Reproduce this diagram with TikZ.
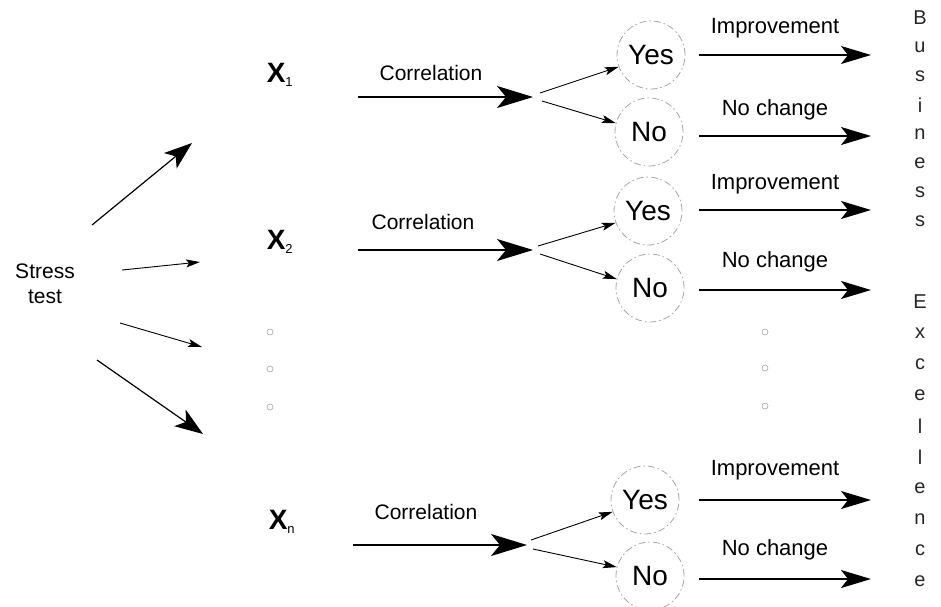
\documentclass[tikz,border=0pt]{standalone}
\usepackage{fontspec}
\setmainfont{Liberation Sans}
\usetikzlibrary{arrows.meta}
\tikzset{
  x=1pt,y=-1pt,
  lbl/.style={font=\fontsize{21}{24}\selectfont, inner sep=0pt},
  lblr/.style={font=\fontsize{22}{25}\selectfont, inner sep=0pt},
  yn/.style={circle, draw=gray!70, line width=0.8pt, dash pattern=on 7pt off 3pt on 1.5pt off 3pt, minimum size=68pt, inner sep=0pt, font=\fontsize{28}{32}\selectfont},
  xlab/.style={font=\fontsize{28}{32}\selectfont\bfseries, inner sep=0pt},
  letter/.style={font=\fontsize{20}{23}\selectfont, inner sep=0pt, text=black!85},
  bigarrow/.style={line width=1.4pt, -{Stealth[length=36pt,width=22pt,inset=9pt]}},
  rarrow/.style={line width=1.4pt, -{Stealth[length=30pt,width=18pt,inset=7pt]}},
  smallarrow/.style={line width=0.9pt, -{Stealth[length=14pt,width=8pt,inset=3pt]}},
  stressbig/.style={line width=1.2pt, -{Stealth[length=28pt,width=20pt,inset=7pt]}},
  dotc/.style={circle, draw=gray!70, line width=0.6pt, minimum size=6pt, inner sep=0pt},
}
\newcommand{\xsub}[1]{\textsubscript{\fontsize{13}{15}\selectfont\mdseries #1}}
\begin{document}
\begin{tikzpicture}
\useasboundingbox (0,0) rectangle (941,606);
% stress test
\node[font=\fontsize{21}{25}\selectfont, align=center, inner sep=0pt] (stress) at (45,284) {Stress\\test};
\coordinate (s1a) at (92,225); \coordinate (s1b) at (192,143);
\coordinate (s2a) at (122,270); \coordinate (s2b) at (200,262);
\coordinate (s3a) at (120,323); \coordinate (s3b) at (202,347);
\coordinate (s4a) at (97,360); \coordinate (s4b) at (203,434);
\draw[stressbig] (s1a) -- (s1b);
\draw[smallarrow] (s2a) -- (s2b);
\draw[smallarrow] (s3a) -- (s3b);
\draw[stressbig] (s4a) -- (s4b);
% X labels
\node[xlab] (x1) at (280,75) {X\xsub{1}};
\node[xlab] (x2) at (280,242) {X\xsub{2}};
\node[xlab] (xn) at (282,522) {X\xsub{n}};
\node[dotc] (ld1) at (270,332) {};
\node[dotc] (ld2) at (270,369) {};
\node[dotc] (ld3) at (270,407) {};
% correlation arrows
\coordinate (c1a) at (358,97); \coordinate (c1b) at (533,97);
\coordinate (c2a) at (358,250); \coordinate (c2b) at (533,250);
\coordinate (c3a) at (353,545); \coordinate (c3b) at (527,545);
\draw[bigarrow] (c1a) -- (c1b);
\draw[bigarrow] (c2a) -- (c2b);
\draw[bigarrow] (c3a) -- (c3b);
\node[lbl] (cl1) at (431,73) {Correlation};
\node[lbl] (cl2) at (423,222) {Correlation};
\node[lbl] (cl3) at (426,512) {Correlation};
% circles
\node[yn] (yes1) at (651,55) {Yes};
\node[yn] (no1) at (649,132) {No};
\node[yn] (yes2) at (648,211) {Yes};
\node[yn] (no2) at (650,288) {No};
\node[yn] (yes3) at (645,500) {Yes};
\node[yn] (no3) at (650,576) {No};
\node[dotc] (rd1) at (765,332) {};
\node[dotc] (rd2) at (765,368) {};
\node[dotc] (rd3) at (765,406) {};
% branch arrows
\coordinate (b1) at (540,93); \coordinate (b1l) at (542,101);
\coordinate (b2) at (538,246); \coordinate (b2l) at (540,254);
\coordinate (b3) at (531,540); \coordinate (b3l) at (533,549);
\draw[smallarrow] (b1) -- (yes1.200);
\draw[smallarrow] (b1l) -- (no1.165);
\draw[smallarrow] (b2) -- (yes2.200);
\draw[smallarrow] (b2l) -- (no2.165);
\draw[smallarrow] (b3) -- (yes3.200);
\draw[smallarrow] (b3l) -- (no3.165);
% right arrows
\coordinate (r1) at (871,55); \coordinate (r2) at (871,136);
\coordinate (r3) at (871,210); \coordinate (r4) at (871,290);
\coordinate (r5) at (871,500); \coordinate (r6) at (871,579);
\draw[rarrow] (yes1.east) ++(14,0) -- (r1);
\draw[rarrow] (no1.east) ++(16,4) -- (r2);
\draw[rarrow] (yes2.east) ++(17,-1) -- (r3);
\draw[rarrow] (no2.east) ++(15,2) -- (r4);
\draw[rarrow] (yes3.east) ++(20,0) -- (r5);
\draw[rarrow] (no3.east) ++(15,3) -- (r6);
\node[lblr] (im1) at (775,28) {Improvement};
\node[lblr] (nc1) at (775,110) {No change};
\node[lblr] (im2) at (775,184) {Improvement};
\node[lblr] (nc2) at (775,262) {No change};
\node[lblr] (im3) at (775,470) {Improvement};
\node[lblr] (nc3) at (775,550) {No change};
% vertical text
\foreach \c [count=\i from 0] in {B,u,s,i,n,e,s,s}
  \node[letter] (bl\i) at (920,{18+29*\i}) {\c};
\foreach \c [count=\i from 0] in {E,x,c,e,l,l,e,n,c,e}
  \node[letter] (el\i) at (920,{302+31*\i}) {\c};
\end{tikzpicture}
\end{document}
